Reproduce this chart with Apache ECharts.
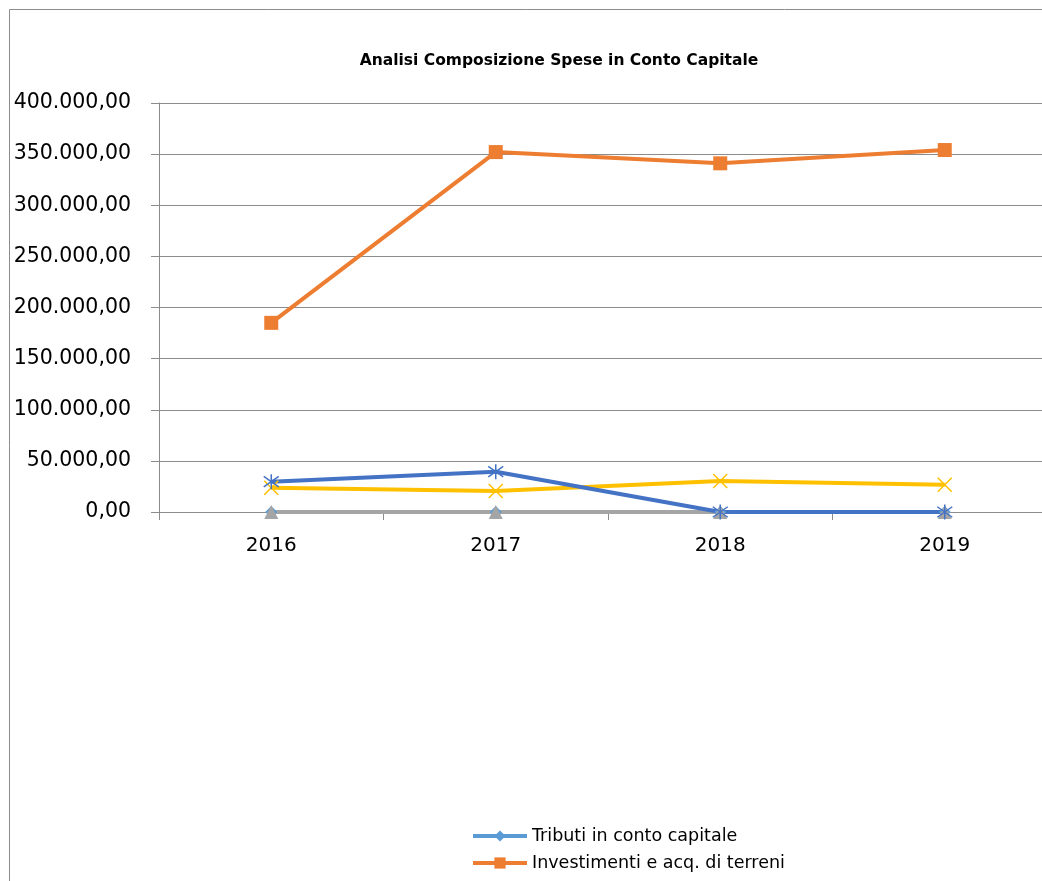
<!DOCTYPE html>
<html>
<head>
<meta charset="utf-8">
<script src="https://cdn.jsdelivr.net/npm/echarts@6/dist/echarts.min.js"></script>
<style>
html,body{margin:0;padding:0;background:#fff;}
#chart{width:1042px;height:881px;}
</style>
</head>
<body>
<div id="chart"></div>
<script>
var titleText = 'Analisi Composizione Spese in Conto Capitale';
var categories = ['2016', '2017', '2018', '2019'];
var seriesNames = [
  'Tributi in conto capitale',
  'Investimenti e acq. di terreni',
  'Contributi agli investimenti',
  'Altri trasferimenti in conto capitale',
  'Altre spese in conto capitale'
];
var tributi = [0, 0, 0, 0];
var investimenti = [185000, 352000, 341000, 354000];
var contributi = [0, 0, 0, 0];
var trasferimenti = [23800, 20500, 30300, 26700];
var altreSpese = [29600, 39400, 0, 0];
var yMin = 0, yMax = 400000, yInterval = 50000;

var FONT = 'DejaVu Sans';
function itFmt(v) {
  var s = Math.round(v).toString().replace(/\B(?=(\d{3})+(?!\d))/g, '.');
  return s + ',00';
}
var asterisk = 'path://M0,-10L0,10M-7,-7L7,7M-7,7L7,-7';
var cross = 'path://M-10,-10L10,10M-10,10L10,-10';

var chart = echarts.init(document.getElementById('chart'));
chart.setOption({
  animation: false,
  backgroundColor: '#fff',
  title: {
    text: titleText,
    left: 554, top: 48, textAlign: 'center',
    textStyle: {fontFamily: FONT, fontWeight: 'bold', fontSize: 15.5, color: '#000'}
  },
  graphic: [
    {type: 'line', shape: {x1: 9.5, y1: 9.5, x2: 1100, y2: 9.5},
      style: {stroke: '#8c8c8c', lineWidth: 1}, silent: true},
    {type: 'line', shape: {x1: 9.5, y1: 9.5, x2: 9.5, y2: 900},
      style: {stroke: '#8c8c8c', lineWidth: 1}, silent: true}
  ],
  legend: {
    data: [seriesNames[0], seriesNames[1]],
    orient: 'vertical', left: 466, top: 822,
    itemWidth: 54, itemHeight: 14, itemGap: 9,
    lineStyle: {width: 4},
    textStyle: {fontFamily: FONT, fontSize: 17.5, color: '#000'}
  },
  grid: {left: 159, top: 103, width: 898, height: 409, containLabel: false, outerBoundsMode: 'none'},
  xAxis: {
    type: 'category', data: categories, boundaryGap: true,
    axisLine: {lineStyle: {color: '#8c8c8c', width: 1}},
    axisTick: {show: true, length: 8, lineStyle: {color: '#8c8c8c'}},
    axisLabel: {fontFamily: FONT, fontSize: 20, color: '#000', margin: 24},
    splitLine: {show: false}
  },
  yAxis: {
    type: 'value', min: yMin, max: yMax, interval: yInterval,
    axisLine: {show: true, lineStyle: {color: '#8c8c8c', width: 1}},
    axisTick: {show: true, length: 8, lineStyle: {color: '#8c8c8c'}},
    axisLabel: {fontFamily: FONT, fontSize: 20.5, color: '#000', margin: 28, formatter: itFmt},
    splitLine: {show: true, lineStyle: {color: '#8c8c8c', width: 1}}
  },
  series: [
    {name: seriesNames[0], type: 'line', data: tributi, symbol: 'diamond', symbolSize: 12,
      itemStyle: {color: '#5B9BD5'}, lineStyle: {color: '#5B9BD5', width: 4}},
    {name: seriesNames[1], type: 'line', data: investimenti, symbol: 'rect', symbolSize: 14,
      itemStyle: {color: '#ED7D31'}, lineStyle: {color: '#ED7D31', width: 4}},
    {name: seriesNames[2], type: 'line', data: contributi, symbol: 'triangle', symbolSize: 14,
      itemStyle: {color: '#A5A5A5'}, lineStyle: {color: '#A5A5A5', width: 4}},
    {name: seriesNames[3], type: 'line', data: trasferimenti, symbol: cross, symbolSize: 14,
      itemStyle: {color: 'none', borderColor: '#FFC000', borderWidth: 1.5},
      lineStyle: {color: '#FFC000', width: 4}},
    {name: seriesNames[4], type: 'line', data: altreSpese, symbol: asterisk, symbolSize: 15,
      itemStyle: {color: 'none', borderColor: '#4472C4', borderWidth: 1.5},
      lineStyle: {color: '#4472C4', width: 4}}
  ]
});
</script>
</body>
</html>
